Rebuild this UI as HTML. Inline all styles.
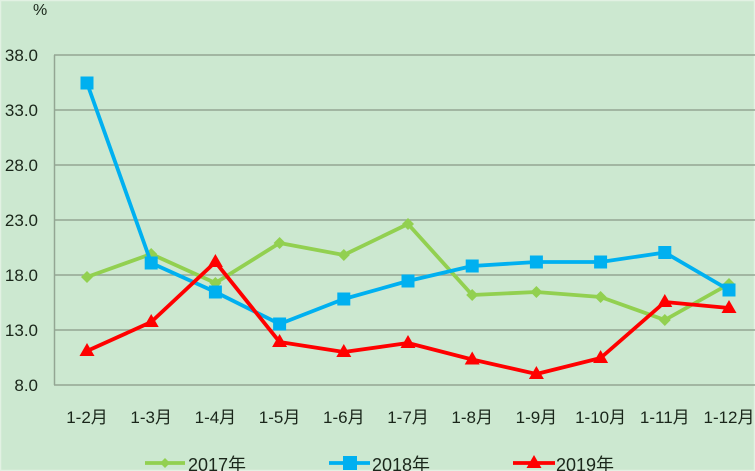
<!DOCTYPE html>
<html>
<head>
<meta charset="utf-8">
<style>
html,body{margin:0;padding:0;background:#cce8d0;}
svg{display:block;}
text{font-family:"Liberation Sans","Noto Sans CJK SC",sans-serif;fill:#1a261a;}
</style>
</head>
<body>
<svg width="755" height="471" viewBox="0 0 755 471" xmlns="http://www.w3.org/2000/svg">
<rect x="0" y="0" width="755" height="471" fill="#cce8d0"/>
<rect x="0.5" y="0.5" width="754" height="470" fill="none" stroke="#e2f1e3" stroke-width="1.5"/>
<!-- gridlines -->
<g stroke="#93a593" stroke-width="1.5">
<line x1="54" y1="55" x2="755" y2="55"/>
<line x1="54" y1="110" x2="755" y2="110"/>
<line x1="54" y1="165" x2="755" y2="165"/>
<line x1="54" y1="220" x2="755" y2="220"/>
<line x1="54" y1="275" x2="755" y2="275"/>
<line x1="54" y1="330" x2="755" y2="330"/>
<line x1="54" y1="385" x2="755" y2="385"/>
<line x1="54.5" y1="55" x2="54.5" y2="385"/>
</g>
<!-- y labels -->
<g font-size="17" text-anchor="end">
<text x="38" y="61">38.0</text>
<text x="38" y="116">33.0</text>
<text x="38" y="171">28.0</text>
<text x="38" y="226">23.0</text>
<text x="38" y="281">18.0</text>
<text x="38" y="336">13.0</text>
<text x="38" y="391">8.0</text>
</g>
<text x="33" y="15" font-size="16">%</text>
<!-- x labels -->
<g font-size="17" text-anchor="middle">
<text x="87" y="423">1-2月</text>
<text x="151.2" y="423">1-3月</text>
<text x="215.4" y="423">1-4月</text>
<text x="279.6" y="423">1-5月</text>
<text x="343.8" y="423">1-6月</text>
<text x="408" y="423">1-7月</text>
<text x="472.2" y="423">1-8月</text>
<text x="536.4" y="423">1-9月</text>
<text x="600.6" y="423">1-10月</text>
<text x="664.8" y="423">1-11月</text>
<text x="729" y="423">1-12月</text>
</g>
<!-- 2017 green -->
<polyline fill="none" stroke="#92d050" stroke-width="3.8" stroke-linejoin="round"
points="87,277 151.2,254 215.4,283 279.6,243 343.8,255 408,224 472.2,295 536.4,292 600.6,297 664.8,320 729,284"/>
<g fill="#92d050">
<polygon points="87,271 93,277 87,283 81,277"/>
<polygon points="151.2,248 157.2,254 151.2,260 145.2,254"/>
<polygon points="215.4,277 221.4,283 215.4,289 209.4,283"/>
<polygon points="279.6,237 285.6,243 279.6,249 273.6,243"/>
<polygon points="343.8,249 349.8,255 343.8,261 337.8,255"/>
<polygon points="408,218 414,224 408,230 402,224"/>
<polygon points="472.2,289 478.2,295 472.2,301 466.2,295"/>
<polygon points="536.4,286 542.4,292 536.4,298 530.4,292"/>
<polygon points="600.6,291 606.6,297 600.6,303 594.6,297"/>
<polygon points="664.8,314 670.8,320 664.8,326 658.8,320"/>
<polygon points="729,278 735,284 729,290 723,284"/>
</g>
<!-- 2018 blue -->
<polyline fill="none" stroke="#00b0f0" stroke-width="3.8" stroke-linejoin="round"
points="87,83 151.2,263 215.4,292 279.6,324 343.8,299 408,281 472.2,266 536.4,262 600.6,262 664.8,252.5 729,290"/>
<g fill="#00b0f0">
<rect x="80.5" y="76.5" width="13" height="13"/>
<rect x="144.7" y="256.5" width="13" height="13"/>
<rect x="208.9" y="285.5" width="13" height="13"/>
<rect x="273.1" y="317.5" width="13" height="13"/>
<rect x="337.3" y="292.5" width="13" height="13"/>
<rect x="401.5" y="274.5" width="13" height="13"/>
<rect x="465.7" y="259.5" width="13" height="13"/>
<rect x="529.9" y="255.5" width="13" height="13"/>
<rect x="594.1" y="255.5" width="13" height="13"/>
<rect x="658.3" y="246" width="13" height="13"/>
<rect x="722.5" y="283.5" width="13" height="13"/>
</g>
<!-- 2019 red -->
<polyline fill="none" stroke="#ff0000" stroke-width="3.8" stroke-linejoin="round"
points="87,351 151.2,322 215.4,262 279.6,342 343.8,352 408,343 472.2,359.5 536.4,374 600.6,358 664.8,302 729,308"/>
<g fill="#ff0000">
<polygon points="87,343 94.5,356 79.5,356"/>
<polygon points="151.2,314 158.7,327 143.7,327"/>
<polygon points="215.4,254 222.9,267 207.9,267"/>
<polygon points="279.6,334 287.1,347 272.1,347"/>
<polygon points="343.8,344 351.3,357 336.3,357"/>
<polygon points="408,335 415.5,348 400.5,348"/>
<polygon points="472.2,351.5 479.7,364.5 464.7,364.5"/>
<polygon points="536.4,366 543.9,379 528.9,379"/>
<polygon points="600.6,350 608.1,363 593.1,363"/>
<polygon points="664.8,294 672.3,307 657.3,307"/>
<polygon points="729,300 736.5,313 721.5,313"/>
</g>
<!-- legend -->
<line x1="145" y1="463" x2="185" y2="463" stroke="#92d050" stroke-width="3.8"/>
<polygon points="165,458 170,463 165,468 160,463" fill="#92d050"/>
<text x="188" y="471" font-size="18">2017年</text>
<line x1="329" y1="463" x2="370" y2="463" stroke="#00b0f0" stroke-width="3.8"/>
<rect x="343" y="456" width="14" height="14" fill="#00b0f0"/>
<text x="372" y="471" font-size="18">2018年</text>
<line x1="513" y1="463" x2="555" y2="463" stroke="#ff0000" stroke-width="3.8"/>
<polygon points="534,455 541.5,468 526.5,468" fill="#ff0000"/>
<text x="556" y="471" font-size="18">2019年</text>
</svg>
</body>
</html>
